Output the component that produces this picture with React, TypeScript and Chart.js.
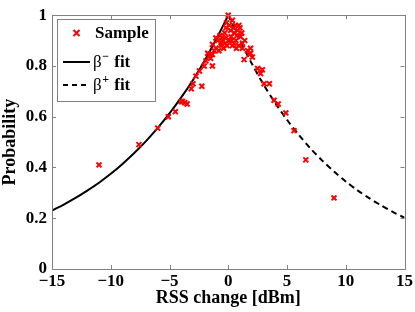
import { useEffect, useRef } from "react";
import { Chart, registerables } from "chart.js";

Chart.register(...registerables);

const xTicks = [-15, -10, -5, 0, 5, 10, 15];
const yTicks = [0, 0.2, 0.4, 0.6, 0.8, 1];

const sampleX = [
  -11.0, -7.6, -6.0, -5.1, -4.5, -3.9, -3.5, -3.7, -3.15, -3.0, -2.25, -2.75, -2.45, -2.05, -1.9,
  -1.35, -1.5, -1.35, -1.75, -1.05, -0.6, -0.9, -0.2, -1.05, -1.35, -0.6, -0.48, -0.2, 0.0, 0.35,
  0.9, 0.8, 0.25, 0.65, 1.05, 0.35, 1.2, 1.2, 1.65, 1.9, 1.35, 1.9, 2.05, 2.5, 2.9, 2.75, 3.05,
  3.5, 3.9, 4.25, 4.9, 5.6, 6.6, 9.0, -0.3, 0.1, 0.5, -0.1, 0.7, 1.0, 0.2, -0.7, 0.5, -0.4, 0.9,
  0.1, -0.8, 1.4, 0.6, -0.15, 1.78, -4.0, 0.3, -0.5, 0.75, 1.15, -0.25, 0.45, -1.2, -1.6,
];
const sampleY = [
  0.41, 0.49, 0.555, 0.6, 0.62, 0.66, 0.65, 0.655, 0.71, 0.73, 0.72, 0.76, 0.78, 0.8, 0.82,
  0.8, 0.83, 0.845, 0.85, 0.87, 0.89, 0.9, 0.91, 0.91, 0.885, 0.88, 0.91, 0.95, 1.0, 0.98,
  0.96, 0.94, 0.915, 0.9, 0.915, 0.88, 0.89, 0.87, 0.86, 0.87, 0.825, 0.85, 0.835, 0.79, 0.785, 0.77, 0.73,
  0.73, 0.665, 0.65, 0.615, 0.545, 0.43, 0.28, 0.93, 0.96, 0.93, 0.88, 0.87, 0.95, 0.94, 0.92, 0.89, 0.87, 0.88,
  0.9, 0.86, 0.9, 0.96, 0.97, 0.846, 0.66, 0.9, 0.9, 0.92, 0.93, 0.89, 0.95, 0.86, 0.84,
];

const fitMinusX = [-15, -14, -13, -12, -11, -10, -9, -8, -7, -6, -5, -4, -3, -2, -1, 0];
const fitMinusY = [0.23, 0.254, 0.28, 0.309, 0.34, 0.375, 0.414, 0.457, 0.504, 0.556, 0.613, 0.676, 0.745, 0.822, 0.907, 1.0];
const fitPlusX = [0, 1, 2, 3, 4, 5, 6, 7, 8, 9, 10, 11, 12, 13, 14, 15];
const fitPlusY = [1.0, 0.9, 0.81, 0.727, 0.654, 0.588, 0.529, 0.475, 0.427, 0.384, 0.345, 0.31, 0.279, 0.251, 0.225, 0.202];

const FONT = "'Liberation Serif', 'Times New Roman', serif";
const FRAME = "#808080";

function drawCross(ctx: CanvasRenderingContext2D, x: number, y: number, r: number) {
  ctx.beginPath();
  ctx.moveTo(x - r, y - r);
  ctx.lineTo(x + r, y + r);
  ctx.moveTo(x + r, y - r);
  ctx.lineTo(x - r, y + r);
  ctx.stroke();
}

const framePlugin = {
  id: "frameAndLegend",
  afterDraw(chart: any) {
    const { ctx, chartArea } = chart;
    const { left, right, top, bottom } = chartArea;
    const xs = chart.scales.x;
    const ys = chart.scales.y;
    ctx.save();
    ctx.strokeStyle = FRAME;
    ctx.lineWidth = 1;
    ctx.strokeRect(Math.round(left) + 0.5, Math.round(top) + 0.5, Math.round(right - left), Math.round(bottom - top));
    const tl = 4;
    ctx.beginPath();
    xTicks.forEach((v) => {
      const px = Math.round(xs.getPixelForValue(v)) + 0.5;
      ctx.moveTo(px, bottom);
      ctx.lineTo(px, bottom - tl);
      ctx.moveTo(px, top);
      ctx.lineTo(px, top + tl);
    });
    yTicks.forEach((v) => {
      const py = Math.round(ys.getPixelForValue(v)) + 0.5;
      ctx.moveTo(left, py);
      ctx.lineTo(left + tl, py);
      ctx.moveTo(right, py);
      ctx.lineTo(right - tl, py);
    });
    ctx.stroke();

    // legend
    const bx = Math.round(left) + 5;
    const by = Math.round(top) + 4;
    const bw = 98;
    const bh = 82;
    ctx.fillStyle = "#ffffff";
    ctx.fillRect(bx, by, bw, bh);
    ctx.strokeStyle = FRAME;
    ctx.strokeRect(bx + 0.5, by + 0.5, bw, bh);

    const lineX0 = bx + 6;
    const lineX1 = bx + 33;
    const textX = bx + 36;
    const rows = [by + 14, by + 43, by + 66];

    ctx.strokeStyle = "#ff0000";
    ctx.lineWidth = 2;
    drawCross(ctx, (lineX0 + lineX1) / 2, rows[0], 3);

    ctx.fillStyle = "#000";
    ctx.textBaseline = "middle";
    ctx.textAlign = "left";
    ctx.font = `bold 17px ${FONT}`;
    ctx.fillText("Sample", textX + 2, rows[0] + 1);

    ctx.strokeStyle = "#000";
    ctx.lineWidth = 2;
    ctx.beginPath();
    ctx.moveTo(lineX0, rows[1]);
    ctx.lineTo(lineX1, rows[1]);
    ctx.stroke();
    ctx.setLineDash([5, 4]);
    ctx.beginPath();
    ctx.moveTo(lineX0, rows[2]);
    ctx.lineTo(lineX1, rows[2]);
    ctx.stroke();
    ctx.setLineDash([]);

    const sups = ["\u2212", "+"];
    [rows[1], rows[2]].forEach((ry, i) => {
      let x = textX;
      ctx.font = `17px ${FONT}`;
      ctx.fillText("\u03b2", x, ry + 1);
      x += ctx.measureText("\u03b2").width + 0.5;
      ctx.font = `bold 12px ${FONT}`;
      ctx.fillText(sups[i], x, ry - 5);
      x += ctx.measureText(sups[i]).width + 1;
      ctx.font = `bold 17px ${FONT}`;
      ctx.fillText(" fit", x, ry + 1);
    });
    ctx.restore();
  },
};

export default function App() {
  const ref = useRef<HTMLCanvasElement | null>(null);
  useEffect(() => {
    if (!ref.current) return;
    const chart = new Chart(ref.current, {
      type: "scatter",
      data: {
        datasets: [
          {
            label: "Sample",
            data: sampleX.map((x, i) => ({ x, y: sampleY[i] })),
            pointStyle: "crossRot",
            pointRadius: 3.5,
            pointBorderWidth: 2,
            borderColor: "#ff0000",
            backgroundColor: "#ff0000",
            showLine: false,
            clip: false,
            order: 0,
          } as any,
          {
            label: "\u03b2\u207b fit",
            data: fitMinusX.map((x, i) => ({ x, y: fitMinusY[i] })),
            showLine: true,
            borderColor: "#000",
            borderWidth: 2,
            pointRadius: 0,
            tension: 0.3,
            order: 1,
          } as any,
          {
            label: "\u03b2\u207a fit",
            data: fitPlusX.map((x, i) => ({ x, y: fitPlusY[i] })),
            showLine: true,
            borderColor: "#000",
            borderWidth: 2,
            borderDash: [6, 4],
            pointRadius: 0,
            tension: 0.3,
            order: 1,
          } as any,
        ],
      },
      options: {
        animation: false,
        responsive: false,
        maintainAspectRatio: false,
        layout: { padding: { top: 10, right: 9, left: 0, bottom: 0 } },
        plugins: { legend: { display: false }, tooltip: { enabled: false } },
        scales: {
          x: {
            type: "linear",
            min: -15,
            max: 15,
            grid: { display: false, drawTicks: false },
            border: { display: false },
            afterBuildTicks: (s: any) => {
              s.ticks = xTicks.map((v) => ({ value: v }));
            },
            afterFit: (s: any) => {
              s.height = 43;
            },
            ticks: {
              color: "#000",
              padding: 2,
              maxRotation: 0,
              font: { family: FONT, size: 17, weight: "bold" },
              callback: (v: any) => (v < 0 ? "\u2212" + Math.abs(v) : String(v)),
            },
            title: {
              display: true,
              text: "RSS change [dBm]",
              color: "#000",
              font: { family: FONT, size: 18, weight: "bold" },
              padding: { top: 0, bottom: 3 },
            },
          },
          y: {
            type: "linear",
            min: 0,
            max: 1,
            grid: { display: false, drawTicks: false },
            border: { display: false },
            afterBuildTicks: (s: any) => {
              s.ticks = yTicks.map((v) => ({ value: v }));
            },
            afterFit: (s: any) => {
              s.width = 52;
            },
            ticks: {
              color: "#000",
              padding: 5,
              font: { family: FONT, size: 17, weight: "bold" },
              callback: (v: any) => (v === 0 ? "0" : v === 1 ? "1" : Number(v).toFixed(1)),
            },
            title: {
              display: true,
              text: "Probability",
              color: "#000",
              font: { family: FONT, size: 18, weight: "bold" },
              padding: { top: 0, bottom: 0 },
            },
          },
        },
      },
      plugins: [framePlugin],
    });
    return () => chart.destroy();
  }, []);
  return (
    <div style={{ position: "fixed", left: 0, top: 0, width: 415, height: 312, background: "#fff" }}>
      <canvas ref={ref} width={415} height={312} style={{ width: 415, height: 312 }} />
    </div>
  );
}
